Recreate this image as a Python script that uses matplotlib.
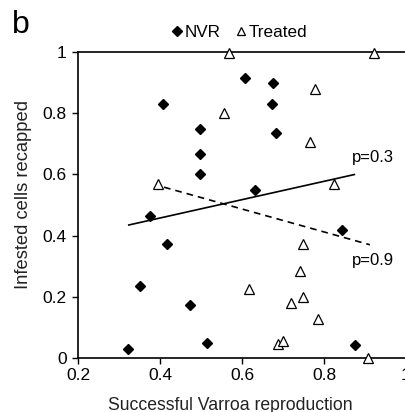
import matplotlib
matplotlib.use("Agg")
import matplotlib.pyplot as plt
from matplotlib.lines import Line2D

plt.rcParams['font.family'] = ['Liberation Sans', 'DejaVu Sans']

nvr_x = [0.407, 0.498, 0.608, 0.675, 0.673, 0.683, 0.498, 0.498, 0.632, 0.375,
         0.418, 0.845, 0.352, 0.474, 0.515, 0.322, 0.875]
nvr_y = [0.829, 0.748, 0.915, 0.898, 0.830, 0.735, 0.666, 0.600, 0.549, 0.464,
         0.372, 0.418, 0.235, 0.173, 0.049, 0.029, 0.042]

trt_x = [0.568, 0.923, 0.777, 0.556, 0.767, 0.395, 0.825, 0.749, 0.741, 0.617,
         0.749, 0.719, 0.786, 0.689, 0.700, 0.908]
trt_y = [0.995, 0.995, 0.880, 0.800, 0.705, 0.568, 0.568, 0.372, 0.284, 0.225,
         0.198, 0.180, 0.128, 0.045, 0.056, 0.000]

nvr_fit_x = [0.322, 0.876]
nvr_fit_y = [0.434, 0.600]
trt_fit_x = [0.41, 0.912]
trt_fit_y = [0.558, 0.370]

xticks = [0.2, 0.4, 0.6, 0.8, 1.0]
xticklabels = ['0.2', '0.4', '0.6', '0.8', '1']
yticks = [0, 0.2, 0.4, 0.6, 0.8, 1.0]
yticklabels = ['0', '0.2', '0.4', '0.6', '0.8', '1']

fig = plt.figure(figsize=(4.06, 4.12), dpi=100)
ax = fig.add_axes([0.192, 0.131, 0.808, 0.743])

ax.plot(nvr_fit_x, nvr_fit_y, color='black', lw=1.2, solid_capstyle='butt')
ax.plot(trt_fit_x, trt_fit_y, color='black', lw=1.2, linestyle=(0, (4, 3)))
ax.plot(nvr_x, nvr_y, linestyle='none', marker='D', ms=5.5, color='black',
        clip_on=False, zorder=3)
ax.plot(trt_x, trt_y, linestyle='none', marker='^', ms=6.5, mfc='white',
        mec='black', mew=0.9, clip_on=False, zorder=3)

ax.set_xlim(0.2, 1.0)
ax.set_ylim(0, 1.0)
ax.set_xticks(xticks)
ax.set_xticklabels(xticklabels)
ax.set_yticks(yticks)
ax.set_yticklabels(yticklabels)
ax.tick_params(direction='out', length=4, width=1, labelsize=12.5, colors='black')
ax.tick_params(axis='y', pad=4)
for s in ax.spines.values():
    s.set_linewidth(1.2)

fig.text(0.567, 0.006, 'Successful Varroa reproduction', fontsize=12.7,
         ha='center', va='baseline', color='#222222')
fig.text(0.057, 0.527, 'Infested cells recapped', fontsize=13.2, rotation=90,
         ha='center', va='center', color='#222222')

ax.text(0.92, 0.655, 'p=0.3', fontsize=12, ha='center', va='center')
ax.text(0.92, 0.32, 'p=0.9', fontsize=12, ha='center', va='center')

handles = [Line2D([], [], linestyle='none', marker='D', ms=5, color='black'),
           Line2D([], [], linestyle='none', marker='^', ms=6, mfc='white',
                  mec='black', mew=0.9)]
fig.legend(handles, ['NVR', 'Treated'], loc='center', bbox_to_anchor=(0.59, 0.922),
           ncol=2, frameon=False, fontsize=12.3, handlelength=0.6, handletextpad=0.15,
           columnspacing=0.9)

fig.text(0.03, 0.94, 'b', fontsize=23, ha='left', va='center')

fig.savefig('out.png', dpi=100)
